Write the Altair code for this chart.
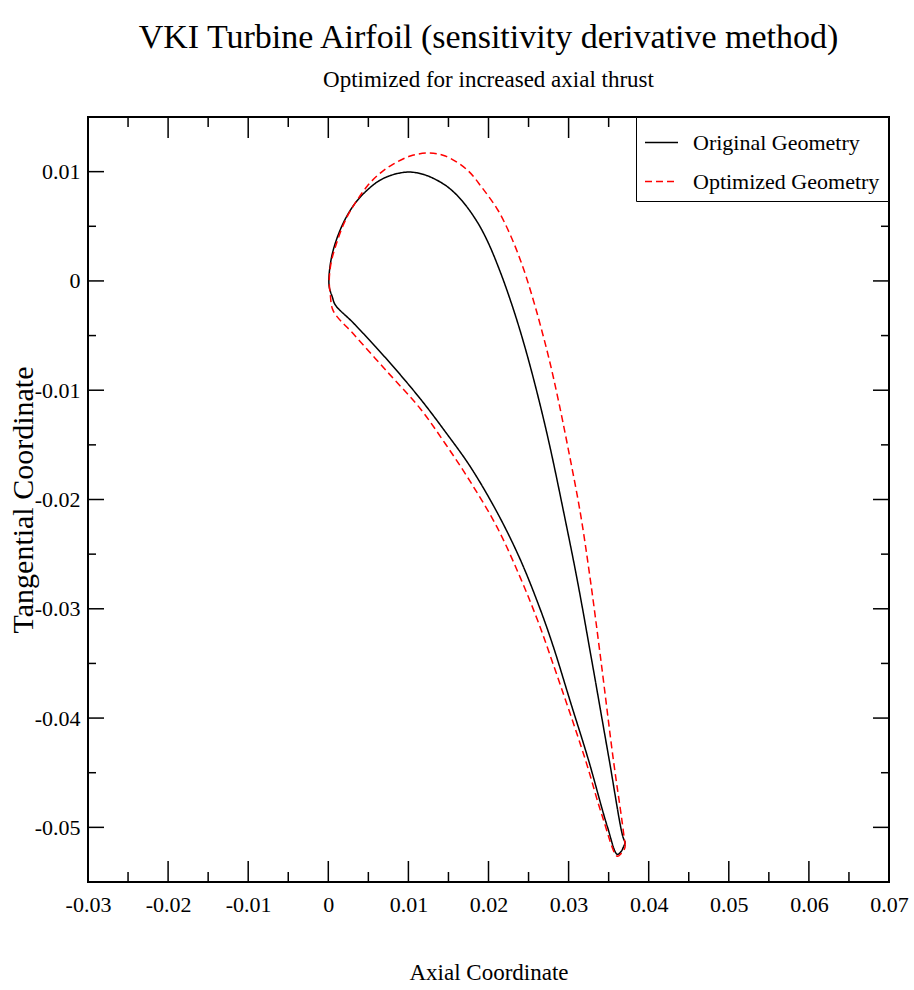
import altair as alt
import pandas as pd

# Blade section coordinates (axial, tangential), traced trailing edge -> suction side
# -> leading edge -> pressure side -> back to the trailing edge.
original_x = [0.03708, 0.03680, 0.03506, 0.03287, 0.03107, 0.02940, 0.02767, 0.02629,
              0.02499, 0.02380, 0.02272, 0.02147, 0.01998, 0.01860, 0.01673, 0.01523,
              0.01398, 0.01211, 0.01024, 0.00836, 0.00649, 0.00487, 0.00337, 0.00187,
              0.00062, 0.00012, 0.00012, 0.00050, 0.00087, 0.00312, 0.00737, 0.01149,
              0.01461, 0.01773, 0.02110, 0.02397, 0.02647, 0.02809, 0.03021, 0.03246,
              0.03483, 0.03608, 0.03658, 0.03683, 0.03708]
original_y = [-0.05137, -0.05091, -0.04378, -0.03464, -0.02733, -0.02121, -0.01517, -0.01088,
              -0.00722, -0.00420, -0.00174, 0.00082, 0.00347, 0.00539, 0.00731, 0.00841,
              0.00905, 0.00969, 0.00996, 0.00978, 0.00923, 0.00832, 0.00713, 0.00530,
              0.00283, 0.00073, -0.00055, -0.00146, -0.00219, -0.00384, -0.00722, -0.01079,
              -0.01380, -0.01700, -0.02121, -0.02550, -0.03007, -0.03346, -0.03848, -0.04378,
              -0.04991, -0.05247, -0.05219, -0.05183, -0.05137]

optimized_x = [0.03708, 0.03664, 0.03558, 0.03402, 0.03271, 0.03146, 0.02990, 0.02871,
               0.02759, 0.02653, 0.02559, 0.02429, 0.02278, 0.02116, 0.01923, 0.01735,
               0.01461, 0.01248, 0.01024, 0.00811, 0.00649, 0.00487, 0.00275, 0.00187,
               0.00100, 0.00037, 0.00012, 0.00025, 0.00062, 0.00312, 0.00737, 0.01149,
               0.01461, 0.01773, 0.02110, 0.02397, 0.02609, 0.02809, 0.03208, 0.03421,
               0.03608, 0.03658, 0.03695, 0.03708]
optimized_y = [-0.05174, -0.04927, -0.04378, -0.03464, -0.02733, -0.02121, -0.01517, -0.01088,
               -0.00722, -0.00420, -0.00174, 0.00128, 0.00411, 0.00649, 0.00850, 0.01015,
               0.01143, 0.01170, 0.01143, 0.01069, 0.00987, 0.00868, 0.00640, 0.00512,
               0.00338, 0.00174, 0.00009, -0.00128, -0.00274, -0.00484, -0.00832, -0.01170,
               -0.01490, -0.01837, -0.02258, -0.02715, -0.03099, -0.03510, -0.04378, -0.04899,
               -0.05265, -0.05238, -0.05201, -0.05174]

series_names = ["Original Geometry", "Optimized Geometry"]

x_domain = [-0.03, 0.07]
y_domain = [-0.055, 0.015]
x_labels = [-0.03, -0.02, -0.01, 0, 0.01, 0.02, 0.03, 0.04, 0.05, 0.06, 0.07]
y_labels = [-0.05, -0.04, -0.03, -0.02, -0.01, 0, 0.01]
x_major = [-0.02, -0.01, 0, 0.01, 0.02, 0.03, 0.04, 0.05, 0.06]
x_minor = [-0.025, -0.015, -0.005, 0.005, 0.015, 0.025, 0.035, 0.045, 0.055, 0.065]
y_major = [-0.05, -0.04, -0.03, -0.02, -0.01, 0, 0.01]
y_minor = [-0.045, -0.035, -0.025, -0.015, -0.005, 0.005]

W, H = 801, 765
FONT = "Liberation Serif"

rows = []
for name, xs, ys in [(series_names[0], original_x, original_y),
                     (series_names[1], optimized_x, optimized_y)]:
    for i, (xv, yv) in enumerate(zip(xs, ys)):
        rows.append({"x": xv, "y": yv, "series": name, "idx": i})
df = pd.DataFrame(rows)

label_expr = ("datum.value == 0 ? '0' : (datum.value < 0 ? '-' : '') + "
              "format(abs(datum.value), '.2f')")

x_axis = alt.Axis(values=x_labels, labelExpr=label_expr, ticks=False, domain=False,
                  grid=False, title="Axial Coordinate", labelPadding=12, labelFlush=False,
                  labelOverlap=False, titleY=97, titleBaseline="alphabetic")
y_axis = alt.Axis(values=y_labels, labelExpr=label_expr, ticks=False, domain=False,
                  grid=False, title="Tangential Coordinate", labelPadding=8, labelFlush=False,
                  labelOverlap=False, titleX=-65, titleAngle=270, titleBaseline="middle",
                  titleFontSize=30)
X = alt.X("x:Q", scale=alt.Scale(domain=x_domain, nice=False, zero=False), axis=x_axis)
Y = alt.Y("y:Q", scale=alt.Scale(domain=y_domain, nice=False, zero=False), axis=y_axis)

lines = alt.Chart(df).mark_line(strokeWidth=1.5, interpolate="catmull-rom").encode(
    x=X,
    y=Y,
    color=alt.Color("series:N", sort=series_names,
                    scale=alt.Scale(domain=series_names, range=["#000000", "#ff0000"]),
                    legend=alt.Legend(title=None)),
    strokeDash=alt.StrokeDash("series:N", sort=series_names,
                              scale=alt.Scale(domain=series_names, range=[[1, 0], [7, 4]]),
                              legend=alt.Legend(title=None)),
    order=alt.Order("idx:Q"),
)


def xticks(values, length):
    d = pd.DataFrame({"x": values})
    bottom = alt.Chart(d).mark_rule(color="black", strokeWidth=1.5).encode(
        x=X, y=alt.value(H), y2=alt.value(H - length))
    top = alt.Chart(d).mark_rule(color="black", strokeWidth=1.5).encode(
        x=X, y=alt.value(0), y2=alt.value(length))
    return [bottom, top]


def yticks(values, length):
    d = pd.DataFrame({"y": values})
    left = alt.Chart(d).mark_rule(color="black", strokeWidth=1.5).encode(
        y=Y, x=alt.value(0), x2=alt.value(length))
    right = alt.Chart(d).mark_rule(color="black", strokeWidth=1.5).encode(
        y=Y, x=alt.value(W), x2=alt.value(W - length))
    return [left, right]


ticks = xticks(x_major, 21) + xticks(x_minor, 10) + yticks(y_major, 16) + yticks(y_minor, 8)

chart = alt.layer(lines, *ticks).properties(
    width=W,
    height=H,
    title=alt.Title(
        "VKI Turbine Airfoil (sensitivity derivative method)",
        subtitle="Optimized for increased axial thrust",
        anchor="middle", font=FONT, fontSize=34, fontWeight="normal", color="black",
        subtitleFont=FONT, subtitleFontSize=23, subtitleColor="black",
        subtitlePadding=14, offset=24,
    ),
    autosize=alt.AutoSizeParams(type="none"),
    padding={"left": 88, "top": 117, "right": 25, "bottom": 108},
).configure_view(
    stroke="black", strokeWidth=2
).configure_axis(
    labelFont=FONT, labelFontSize=22, labelColor="black",
    titleFont=FONT, titleFontSize=23, titleFontWeight="normal", titleColor="black",
).configure_legend(
    orient="none", legendX=548, legendY=0, fillColor="white", strokeColor="black",
    padding=8, symbolType="stroke", symbolSize=1089, symbolStrokeWidth=1.5,
    labelFont=FONT, labelFontSize=22, labelColor="black", labelOffset=14, rowPadding=10,
    labelLimit=400,
)

chart.save("out.html", embed_options={"renderer": "svg", "actions": False})
